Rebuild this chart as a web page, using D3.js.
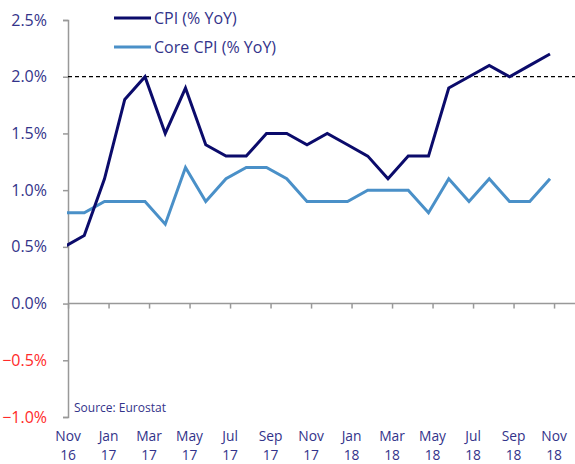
<!DOCTYPE html>
<html>
<head>
<meta charset="utf-8">
<script src="https://cdn.jsdelivr.net/npm/d3@7"></script>
<style>
  body { margin: 0; background: #fff; }
  text { font-family: "Open Sans", "Noto Sans", sans-serif; }
</style>
</head>
<body>
<div id="chart"></div>
<script>
// monthly readings, Oct 16 .. Oct 18
const months = ['Oct 16','Nov 16','Dec 16','Jan 17','Feb 17','Mar 17','Apr 17','May 17','Jun 17',
  'Jul 17','Aug 17','Sep 17','Oct 17','Nov 17','Dec 17','Jan 18','Feb 18','Mar 18','Apr 18',
  'May 18','Jun 18','Jul 18','Aug 18','Sep 18','Oct 18'];
const cpi = [0.5, 0.6, 1.1, 1.8, 2.0, 1.5, 1.9, 1.4, 1.3, 1.3, 1.5, 1.5, 1.4, 1.5, 1.4, 1.3,
  1.1, 1.3, 1.3, 1.9, 2.0, 2.1, 2.0, 2.1, 2.2];
const coreCpi = [0.8, 0.8, 0.9, 0.9, 0.9, 0.7, 1.2, 0.9, 1.1, 1.2, 1.2, 1.1, 0.9, 0.9, 0.9, 1.0,
  1.0, 1.0, 0.8, 1.1, 0.9, 1.1, 0.9, 0.9, 1.1];
const tickMonths = ['Nov','Jan','Mar','May','Jul','Sep','Nov','Jan','Mar','May','Jul','Sep','Nov'];
const tickYears = ['16','17','17','17','17','17','17','18','18','18','18','18','18'];
const yTicks = [-1.0, -0.5, 0.0, 0.5, 1.0, 1.5, 2.0, 2.5];
const target = 2.0;

const width = 575, height = 464;
const navy = '#0b0b6b', light = '#4a90c8', textCol = '#33338a', red = '#ff2a2a', grey = '#999';

const svg = d3.select('#chart').append('svg')
  .attr('width', width).attr('height', height);

const x = d3.scaleLinear().domain([0, months.length - 1]).range([64, 550]);
const y = d3.scaleLinear().domain([-1, 2.5]).range([417, 20]);
const axisX = 68;
const tickShift = 0.2; // labels sit slightly right of the month points
const tickPos = (d, i) => x(i * 2 + tickShift);

svg.append('clipPath').attr('id', 'plot')
  .append('rect').attr('x', axisX - 1).attr('y', 0).attr('width', width).attr('height', height);

// y axis
const yAxis = svg.append('g')
  .attr('transform', `translate(${axisX},0)`)
  .call(d3.axisLeft(y).tickValues(yTicks).tickSize(5).tickFormat(d => d3.format('.1f')(d) + '%'));
yAxis.select('.domain').attr('stroke', grey).attr('stroke-width', 1.5);
yAxis.selectAll('.tick line').attr('stroke', grey).attr('stroke-width', 1.5);
yAxis.selectAll('.tick text')
  .attr('x', -21)
  .attr('font-size', 16)
  .attr('fill', d => d < 0 ? red : textCol);

// x axis at zero
const xAxis = svg.append('g')
  .attr('transform', `translate(0,${y(0)})`)
  .call(d3.axisBottom(x)
    .tickValues(tickMonths.map((d, i) => i * 2 + tickShift))
    .tickSize(5).tickFormat(''));
xAxis.select('.domain').remove();
xAxis.selectAll('.tick line').attr('stroke', grey).attr('stroke-width', 1.5);
svg.append('line')
  .attr('x1', axisX).attr('x2', width)
  .attr('y1', y(0)).attr('y2', y(0))
  .attr('stroke', grey).attr('stroke-width', 1.5);

// month / year labels below the plot
svg.append('g').selectAll('text')
  .data(tickMonths)
  .join('text')
    .attr('x', tickPos).attr('y', 441)
    .attr('text-anchor', 'middle')
    .attr('font-size', 13.8)
    .attr('fill', textCol)
    .text(d => d);
svg.append('g').selectAll('text')
  .data(tickYears)
  .join('text')
    .attr('x', tickPos).attr('y', 460)
    .attr('text-anchor', 'middle')
    .attr('font-size', 13.8)
    .attr('fill', textCol)
    .text(d => d);

// 2% line
svg.append('line')
  .attr('x1', axisX).attr('x2', width)
  .attr('y1', y(target)).attr('y2', y(target))
  .attr('stroke', '#000').attr('stroke-width', 1.2)
  .attr('stroke-dasharray', '4,3');

const line = d3.line().x((d, i) => x(i)).y(d => y(d));

svg.append('path').datum(coreCpi)
  .attr('clip-path', 'url(#plot)')
  .attr('fill', 'none').attr('stroke', light).attr('stroke-width', 3)
  .attr('d', line);
svg.append('path').datum(cpi)
  .attr('clip-path', 'url(#plot)')
  .attr('fill', 'none').attr('stroke', navy).attr('stroke-width', 3)
  .attr('d', line);

// legend
const legend = [
  { name: 'CPI (% YoY)', color: navy },
  { name: 'Core CPI (% YoY)', color: light }
];
const lg = svg.append('g').selectAll('g')
  .data(legend)
  .join('g')
    .attr('transform', (d, i) => `translate(114,${18 + i * 29})`);
lg.append('line').attr('x1', 0).attr('x2', 37)
  .attr('stroke', d => d.color).attr('stroke-width', 3);
lg.append('text').attr('x', 40).attr('dy', '0.35em')
  .attr('font-size', 16).attr('fill', textCol)
  .text(d => d.name);

// source note
svg.append('text')
  .attr('x', 74).attr('y', 412)
  .attr('font-size', 12).attr('fill', textCol)
  .text('Source: Eurostat');
</script>
</body>
</html>
